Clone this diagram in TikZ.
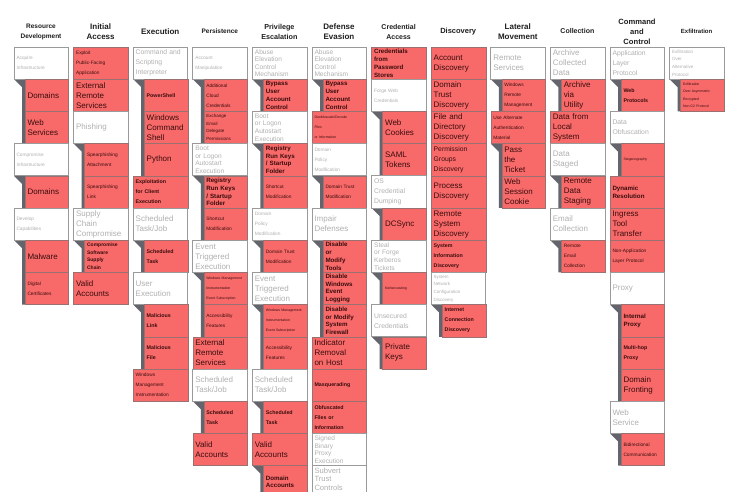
\documentclass[tikz,border=0pt]{standalone}
\usepackage{fontspec}
\setmainfont{Liberation Sans}
\setsansfont{Liberation Sans}
\definecolor{redc}{HTML}{F86A6A}
\definecolor{rbord}{HTML}{9A7070}
\definecolor{pbord}{HTML}{9A9A9A}
\definecolor{ptxt}{HTML}{B0B0B0}
\definecolor{rtxt}{HTML}{3A0C0C}
\definecolor{gbarc}{HTML}{64646C}
\newcommand\szL{\fontsize{8}{10}\selectfont}
\newcommand\szLt{\fontsize{7.6}{8.4}\selectfont}
\newcommand\szM{\fontsize{6.8}{10}\selectfont}
\newcommand\szMt{\fontsize{6.6}{7.6}\selectfont}
\newcommand\szB{\bfseries\fontsize{6.2}{7.8}\selectfont}
\newcommand\szS{\bfseries\fontsize{5.3}{10}\selectfont}
\newcommand\szSt{\bfseries\fontsize{5}{7.6}\selectfont}
\newcommand\szT{\fontsize{4.8}{10}\selectfont}
\newcommand\szTt{\fontsize{4.5}{7.6}\selectfont}
\newcommand\szX{\fontsize{3.5}{10}\selectfont}
\newcommand\szXt{\fontsize{3.5}{7.4}\selectfont}
\newcommand\mk[6]{\node[#2,font=#3] (#1) at ({14+59.6*(#4-1)},{47+32.2*#5}) {#6};}
\newcommand\gb[3]{\fill[gbarc] ({14+59.6*(#1-1)},{47+32.2*#2}) -- ({14+59.6*(#1-1)+11},{47+32.2*#2}) -- ({14+59.6*(#1-1)+11},{47+32.2*#3}) -- ({14+59.6*(#1-1)+8},{47+32.2*#3}) -- ({14+59.6*(#1-1)+8},{47+32.2*#2+8}) -- cycle;}
\newcommand\hd[4]{\node[hdr,font=\bfseries\fontsize{#3}{10}\selectfont] (#1) at ({41+59.6*(#2-1)},31.5) {#4};}
\tikzset{
  base/.style={anchor=north west, minimum height=32.2pt, inner ysep=0pt, align=left, outer sep=0pt},
  parbox/.style={base, draw=pbord, line width=0.8pt, fill=white, text=ptxt, minimum width=54.5pt, text width=49.5pt, inner xsep=2.5pt},
  topbox/.style={base, draw=rbord, line width=0.4pt, fill=redc, text=rtxt, minimum width=54.5pt, text width=49.5pt, inner xsep=2.5pt},
  chdbox/.style={base, draw=rbord, line width=0.4pt, fill=redc, text=rtxt, minimum width=43.5pt, text width=38.5pt, inner xsep=2.5pt, xshift=11pt},
  hdr/.style={align=center, text=black!88, inner sep=0pt}
}
\begin{document}
\begin{tikzpicture}[x=1pt,y=-1pt]
\useasboundingbox (0,0) rectangle (740,492);
\clip (0,0) rectangle (740,492);
\fill[white] (0,0) rectangle (740,492);
% headers
\hd{h1}{1}{6.5}{Resource\\Development}
\hd{h2}{2}{8}{Initial\\Access}
\hd{h3}{3}{8}{Execution}
\hd{h4}{4}{6.5}{Persistence}
\hd{h5}{5}{7.2}{Privilege\\Escalation}
\hd{h6}{6}{8}{Defense\\Evasion}
\hd{h7}{7}{7}{Credential\\Access}
\hd{h8}{8}{7.5}{Discovery}
\hd{h9}{9}{8}{Lateral\\Movement}
\hd{h10}{10}{7}{Collection}
\hd{h11}{11}{7.6}{Command\\and\\Control}
\hd{h12}{12}{6}{Exfiltration}
% column 1
\gb{1}{1}{3}\gb{1}{4}{5}\gb{1}{6}{8}
\mk{a0}{parbox}{\szT}{1}{0}{Acquire\\Infrastructure}
\mk{a1}{chdbox}{\szL}{1}{1}{Domains}
\mk{a2}{chdbox}{\szL}{1}{2}{Web\\Services}
\mk{a3}{parbox}{\szT}{1}{3}{Compromise\\Infrastructure}
\mk{a4}{chdbox}{\szL}{1}{4}{Domains}
\mk{a5}{parbox}{\szT}{1}{5}{Develop\\Capabilities}
\mk{a6}{chdbox}{\szL}{1}{6}{Malware}
\mk{a7}{chdbox}{\szT}{1}{7}{Digital\\Certificates}
% column 2
\gb{2}{3}{5}\gb{2}{6}{7}
\mk{b0}{topbox}{\szT}{2}{0}{Exploit\\Public-Facing\\Application}
\mk{b1}{topbox}{\szL}{2}{1}{External\\Remote\\Services}
\mk{b2}{parbox}{\szL}{2}{2}{Phishing}
\mk{b3}{chdbox}{\szT}{2}{3}{Spearphishing\\Attachment}
\mk{b4}{chdbox}{\szT}{2}{4}{Spearphishing\\Link}
\mk{b5}{parbox}{\szL}{2}{5}{Supply\\Chain\\Compromise}
\mk{b6}{chdbox}{\szSt}{2}{6}{Compromise\\Software\\Supply\\Chain}
\mk{b7}{topbox}{\szL}{2}{7}{Valid\\Accounts}
% column 3
\gb{3}{1}{4}\gb{3}{6}{7}\gb{3}{8}{10}
\mk{c0}{parbox}{\szM}{3}{0}{Command and\\Scripting\\Interpreter}
\mk{c1}{chdbox}{\szS}{3}{1}{PowerShell}
\mk{c2}{chdbox}{\szL}{3}{2}{Windows\\Command\\Shell}
\mk{c3}{chdbox}{\szL}{3}{3}{Python}
\mk{c4}{topbox}{\szS}{3}{4}{Exploitation\\for Client\\Execution}
\mk{c5}{parbox}{\szL}{3}{5}{Scheduled\\Task/Job}
\mk{c6}{chdbox}{\szS}{3}{6}{Scheduled\\Task}
\mk{c7}{parbox}{\szL}{3}{7}{User\\Execution}
\mk{c8}{chdbox}{\szS}{3}{8}{Malicious\\Link}
\mk{c9}{chdbox}{\szS}{3}{9}{Malicious\\File}
\mk{c10}{topbox}{\szT}{3}{10}{Windows\\Management\\Instrumentation}
% column 4
\gb{4}{1}{3}\gb{4}{4}{6}\gb{4}{7}{9}\gb{4}{11}{12}
\mk{d0}{parbox}{\szT}{4}{0}{Account\\Manipulation}
\mk{d1}{chdbox}{\szT}{4}{1}{Additional\\Cloud\\Credentials}
\mk{d2}{chdbox}{\szTt}{4}{2}{Exchange\\Email\\Delegate\\Permissions}
\mk{d3}{parbox}{\szMt}{4}{3}{Boot\\or Logon\\Autostart\\Execution}
\mk{d4}{chdbox}{\szB}{4}{4}{Registry\\Run Keys\\/ Startup\\Folder}
\mk{d5}{chdbox}{\szT}{4}{5}{Shortcut\\Modification}
\mk{d6}{parbox}{\szL}{4}{6}{Event\\Triggered\\Execution}
\mk{d7}{chdbox}{\szX}{4}{7}{Windows Management\\Instrumentation\\Event Subscription}
\mk{d8}{chdbox}{\szT}{4}{8}{Accessibility\\Features}
\mk{d9}{topbox}{\szL}{4}{9}{External\\Remote\\Services}
\mk{d10}{parbox}{\szL}{4}{10}{Scheduled\\Task/Job}
\mk{d11}{chdbox}{\szS}{4}{11}{Scheduled\\Task}
\mk{d12}{topbox}{\szL}{4}{12}{Valid\\Accounts}
% column 5
\gb{5}{1}{2}\gb{5}{3}{5}\gb{5}{6}{7}\gb{5}{8}{10}\gb{5}{11}{12}\gb{5}{13}{15}
\mk{e0}{parbox}{\szMt}{5}{0}{Abuse\\Elevation\\Control\\Mechanism}
\mk{e1}{chdbox}{\szB}{5}{1}{Bypass\\User\\Account\\Control}
\mk{e2}{parbox}{\szMt}{5}{2}{Boot\\or Logon\\Autostart\\Execution}
\mk{e3}{chdbox}{\szB}{5}{3}{Registry\\Run Keys\\/ Startup\\Folder}
\mk{e4}{chdbox}{\szT}{5}{4}{Shortcut\\Modification}
\mk{e5}{parbox}{\szT}{5}{5}{Domain\\Policy\\Modification}
\mk{e6}{chdbox}{\szT}{5}{6}{Domain Trust\\Modification}
\mk{e7}{parbox}{\szL}{5}{7}{Event\\Triggered\\Execution}
\mk{e8}{chdbox}{\szX}{5}{8}{Windows Management\\Instrumentation\\Event Subscription}
\mk{e9}{chdbox}{\szT}{5}{9}{Accessibility\\Features}
\mk{e10}{parbox}{\szL}{5}{10}{Scheduled\\Task/Job}
\mk{e11}{chdbox}{\szS}{5}{11}{Scheduled\\Task}
\mk{e12}{topbox}{\szL}{5}{12}{Valid\\Accounts}
\mk{e13}{chdbox}{\szB}{5}{13}{Domain\\Accounts}
% column 6
\gb{6}{1}{2}\gb{6}{4}{5}\gb{6}{6}{9}
\mk{f0}{parbox}{\szMt}{6}{0}{Abuse\\Elevation\\Control\\Mechanism}
\mk{f1}{chdbox}{\szB}{6}{1}{Bypass\\User\\Account\\Control}
\mk{f2}{topbox}{\szX}{6}{2}{Deobfuscate/Decode\\Files\\or Information}
\mk{f3}{parbox}{\szT}{6}{3}{Domain\\Policy\\Modification}
\mk{f4}{chdbox}{\szT}{6}{4}{Domain Trust\\Modification}
\mk{f5}{parbox}{\szL}{6}{5}{Impair\\Defenses}
\mk{f6}{chdbox}{\szB}{6}{6}{Disable\\or\\Modify\\Tools}
\mk{f7}{chdbox}{\szB}{6}{7}{Disable\\Windows\\Event\\Logging}
\mk{f8}{chdbox}{\szB}{6}{8}{Disable\\or Modify\\System\\Firewall}
\mk{f9}{topbox}{\szL}{6}{9}{Indicator\\Removal\\on Host}
\mk{f10}{topbox}{\szS}{6}{10}{Masquerading}
\mk{f11}{topbox}{\szS}{6}{11}{Obfuscated\\Files or\\Information}
\mk{f12}{parbox}{\szMt}{6}{12}{Signed\\Binary\\Proxy\\Execution}
\node[parbox,font=\szLt,minimum height=27.2pt] (f13) at ({14+59.6*5},{47+32.2*13}) {Subvert\\Trust\\Controls};
% column 7
\gb{7}{2}{4}\gb{7}{5}{6}\gb{7}{7}{8}\gb{7}{9}{10}
\mk{g0}{topbox}{\szB}{7}{0}{Credentials\\from\\Password\\Stores}
\mk{g1}{parbox}{\szT}{7}{1}{Forge Web\\Credentials}
\mk{g2}{chdbox}{\szL}{7}{2}{Web\\Cookies}
\mk{g3}{chdbox}{\szL}{7}{3}{SAML\\Tokens}
\mk{g4}{parbox}{\szM}{7}{4}{OS\\Credential\\Dumping}
\mk{g5}{chdbox}{\szL}{7}{5}{DCSync}
\mk{g6}{parbox}{\szMt}{7}{6}{Steal\\or Forge\\Kerberos\\Tickets}
\mk{g7}{chdbox}{\szX}{7}{7}{Kerberoasting}
\mk{g8}{parbox}{\szM}{7}{8}{Unsecured\\Credentials}
\mk{g9}{chdbox}{\szL}{7}{9}{Private\\Keys}
% column 8
\gb{8}{8}{9}
\mk{k0}{topbox}{\szL}{8}{0}{Account\\Discovery}
\mk{k1}{topbox}{\szL}{8}{1}{Domain\\Trust\\Discovery}
\mk{k2}{topbox}{\szL}{8}{2}{File and\\Directory\\Discovery}
\mk{k3}{topbox}{\szM}{8}{3}{Permission\\Groups\\Discovery}
\mk{k4}{topbox}{\szL}{8}{4}{Process\\Discovery}
\mk{k5}{topbox}{\szL}{8}{5}{Remote\\System\\Discovery}
\mk{k6}{topbox}{\szS}{8}{6}{System\\Information\\Discovery}
\mk{k7}{parbox}{\szTt}{8}{7}{System\\Network\\Configuration\\Discovery}
\mk{k8}{chdbox}{\szS}{8}{8}{Internet\\Connection\\Discovery}
% column 9
\gb{9}{1}{2}\gb{9}{3}{5}
\mk{l0}{parbox}{\szL}{9}{0}{Remote\\Services}
\mk{l1}{chdbox}{\szT}{9}{1}{Windows\\Remote\\Management}
\mk{l2}{topbox}{\szT}{9}{2}{Use Alternate\\Authentication\\Material}
\mk{l3}{chdbox}{\szL}{9}{3}{Pass\\the\\Ticket}
\mk{l4}{chdbox}{\szL}{9}{4}{Web\\Session\\Cookie}
% column 10
\gb{10}{1}{2}\gb{10}{4}{5}\gb{10}{6}{7}
\mk{m0}{parbox}{\szL}{10}{0}{Archive\\Collected\\Data}
\mk{m1}{chdbox}{\szL}{10}{1}{Archive\\via\\Utility}
\mk{m2}{topbox}{\szL}{10}{2}{Data from\\Local\\System}
\mk{m3}{parbox}{\szL}{10}{3}{Data\\Staged}
\mk{m4}{chdbox}{\szL}{10}{4}{Remote\\Data\\Staging}
\mk{m5}{parbox}{\szL}{10}{5}{Email\\Collection}
\mk{m6}{chdbox}{\szT}{10}{6}{Remote\\Email\\Collection}
% column 11
\gb{11}{1}{2}\gb{11}{3}{4}\gb{11}{8}{11}\gb{11}{12}{13}
\mk{n0}{parbox}{\szM}{11}{0}{Application\\Layer\\Protocol}
\mk{n1}{chdbox}{\szS}{11}{1}{Web\\Protocols}
\mk{n2}{parbox}{\szM}{11}{2}{Data\\Obfuscation}
\mk{n3}{chdbox}{\szX}{11}{3}{Steganography}
\mk{n4}{topbox}{\szB}{11}{4}{Dynamic\\Resolution}
\mk{n5}{topbox}{\szL}{11}{5}{Ingress\\Tool\\Transfer}
\mk{n6}{topbox}{\szT}{11}{6}{Non-Application\\Layer Protocol}
\mk{n7}{parbox}{\szL}{11}{7}{Proxy}
\mk{n8}{chdbox}{\szB}{11}{8}{Internal\\Proxy}
\mk{n9}{chdbox}{\szS}{11}{9}{Multi-hop\\Proxy}
\mk{n10}{chdbox}{\szL}{11}{10}{Domain\\Fronting}
\mk{n11}{parbox}{\szL}{11}{11}{Web\\Service}
\mk{n12}{chdbox}{\szT}{11}{12}{Bidirectional\\Communication}
% column 12
\gb{12}{1}{2}
\mk{o0}{parbox}{\szTt}{12}{0}{Exfiltration\\Over\\Alternative\\Protocol}
\mk{o1}{chdbox}{\szXt}{12}{1}{Exfiltration\\Over Asymmetric\\Encrypted\\Non-C2 Protocol}
\end{tikzpicture}
\end{document}
